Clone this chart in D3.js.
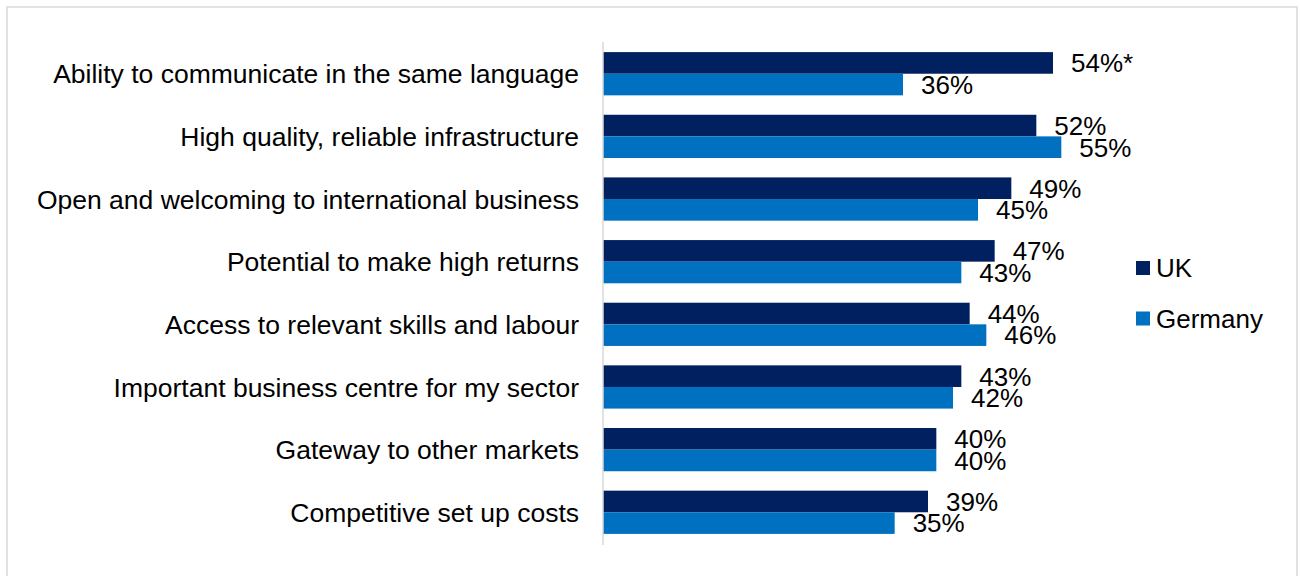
<!DOCTYPE html>
<html><head><meta charset="utf-8">
<script src="https://cdn.jsdelivr.net/npm/d3@7"></script>
<style>body{margin:0;background:#fff}svg{display:block}text{font-family:"Liberation Sans",Arial,sans-serif;fill:#000}</style>
</head><body><svg id="c" width="1300" height="576"></svg>
<script>
const categories = ["Ability to communicate in the same language","High quality, reliable infrastructure","Open and welcoming to international business","Potential to make high returns","Access to relevant skills and labour","Important business centre for my sector","Gateway to other markets","Competitive set up costs"];
const seriesNames = ["UK","Germany"];
const ukValues = [54,52,49,47,44,43,40,39];
const germanyValues = [36,55,45,43,46,42,40,35];
const ukLabels = ["54%*","52%","49%","47%","44%","43%","40%","39%"];
const germanyLabels = ["36%","55%","45%","43%","46%","42%","40%","35%"];
const colors = ["#002060","#0070C0"];

const svg = d3.select("#c");
svg.append("rect").attr("x",7).attr("y",7).attr("width",1290).attr("height",600)
  .attr("fill","none").attr("stroke","#d9d9d9").attr("stroke-width",1.5);

const x = d3.scaleLinear().domain([0,60]).range([603,1103]);
const y = d3.scaleBand().domain(categories).range([42.4,543.6]).paddingInner(0.31).paddingOuter(0.155);
const sub = d3.scaleBand().domain(seriesNames).range([0,y.bandwidth()]);

const data = seriesNames.map((s,i)=>({name:s, values:i===0?ukValues:germanyValues, labels:i===0?ukLabels:germanyLabels, color:colors[i]}));

data.forEach(s=>{
  const g = svg.append("g");
  g.selectAll("rect").data(categories).join("rect")
    .attr("x",x(0)).attr("y",(c)=>y(c)+sub(s.name))
    .attr("width",(c,i)=>x(s.values[i])-x(0)).attr("height",sub.bandwidth())
    .attr("fill",s.color);
  g.selectAll("text").data(categories).join("text")
    .attr("x",(c,i)=>x(s.values[i])+18).attr("y",(c)=>y(c)+sub(s.name)+sub.bandwidth()/2)
    .attr("dy","0.36em").style("font-size","26px").text((c,i)=>s.labels[i]);
});

// axis line
svg.append("line").attr("x1",603).attr("x2",603).attr("y1",42).attr("y2",545)
  .attr("stroke","#d9d9d9").attr("stroke-width",1.5);

// category labels
const yAxis = d3.axisLeft(y).tickSize(0).tickPadding(24);
const ag = svg.append("g").attr("transform","translate(603,0)").call(yAxis);
ag.select(".domain").remove();
ag.selectAll("text").attr("dy","0.36em").style("font-size","26.5px").style("font-family","'Liberation Sans',Arial,sans-serif").attr("fill","#000");

// legend
const lg = svg.append("g");
seriesNames.forEach((s,i)=>{
  const yy = 268 + i*50.5;
  lg.append("rect").attr("x",1136).attr("y",yy-7).attr("width",14).attr("height",14).attr("fill",colors[i]);
  lg.append("text").attr("x",1156).attr("y",yy).attr("dy","0.36em").style("font-size","26px").text(s);
});
</script></body></html>
